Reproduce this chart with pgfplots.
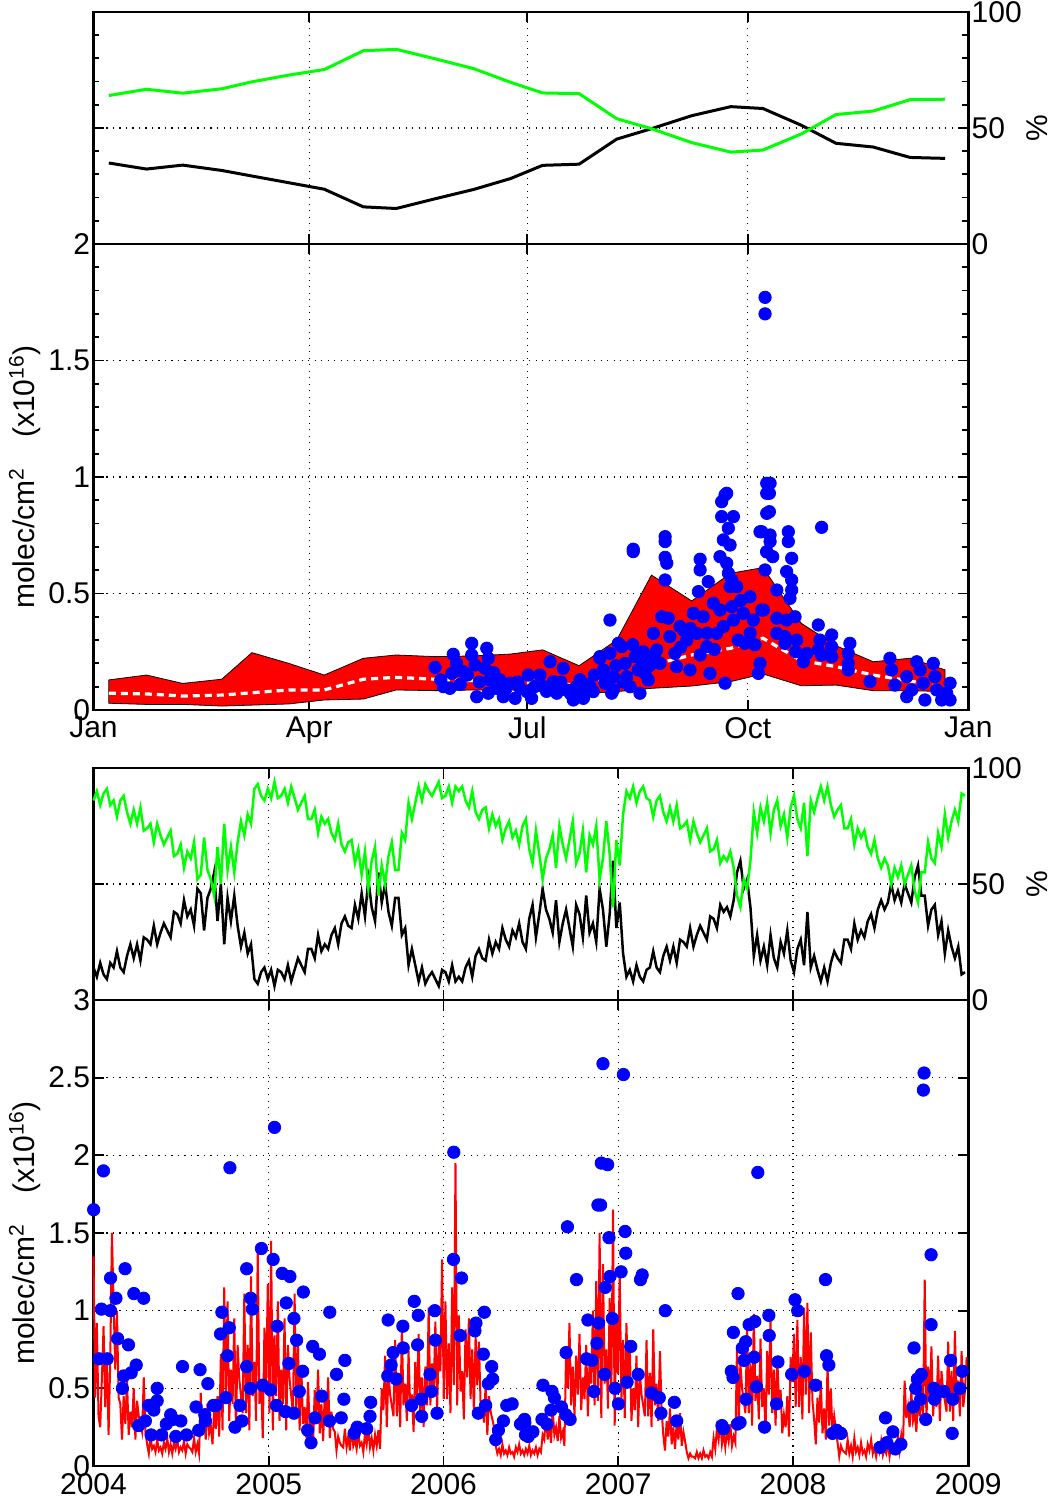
\documentclass[border=0pt]{standalone}
\usepackage{fontspec}
\setmainfont{Liberation Sans}
\usepackage{pgfplots}
\pgfplotsset{compat=1.18}
\usepackage{pgfplotstable}

\definecolor{mgreen}{RGB}{0,255,0}
\definecolor{mred}{RGB}{255,0,0}
\definecolor{mblue}{RGB}{0,0,255}

\pgfplotstableread{
w b g
0 14 86
1 10 90
2 16 84
3 11 89
4 9 91
5 16 84
6 14 86
7 21 79
8 14 86
9 12 88
10 19 81
11 24 76
12 18 82
13 24 76
14 17 83
15 27 73
16 26 74
17 24 76
18 32 68
19 24 76
20 29 71
21 33 67
22 30 70
23 27 73
24 38 62
25 37 63
26 33 67
27 43 57
28 36 64
29 39 61
30 32 68
31 48 52
32 46 54
33 30 70
34 44 56
35 48 52
36 55 45
37 34 66
38 50 50
39 24 76
40 44 56
41 34 66
42 45 55
43 32 68
44 23 77
45 29 71
46 20 80
47 24 76
48 9 91
49 7 93
50 12 88
51 14 86
52 9 91
53 13 87
54 6 94
55 13 87
56 12 88
57 9 91
58 15 85
59 8 92
60 13 87
61 18 82
62 15 85
63 12 88
64 22 78
65 22 78
66 18 82
67 28 72
68 21 79
69 24 76
70 22 78
71 28 72
72 31 69
73 24 76
74 33 67
75 36 64
76 32 68
77 31 69
78 41 59
79 35 65
80 46 54
81 36 64
82 52 48
83 40 60
84 34 66
85 55 45
86 42 58
87 50 50
88 38 62
89 32 68
90 44 56
91 44 56
92 28 72
93 31 69
94 15 85
95 22 78
96 15 85
97 8 92
98 14 86
99 7 93
100 10 90
101 12 88
102 9 91
103 6 94
104 13 87
105 12 88
106 8 92
107 15 85
108 8 92
109 10 90
110 8 92
111 14 86
112 17 83
113 10 90
114 19 81
115 22 78
116 18 82
117 17 83
118 26 74
119 20 80
120 25 75
121 22 78
122 31 69
123 26 74
124 23 77
125 30 70
126 27 73
127 33 67
128 25 75
129 22 78
130 35 65
131 41 59
132 27 73
133 37 63
134 48 52
135 39 61
136 35 65
137 29 71
138 43 57
139 25 75
140 33 67
141 39 61
142 31 69
143 23 77
144 41 59
145 37 63
146 27 73
147 45 55
148 29 71
149 33 67
150 25 75
151 48 52
152 39 61
153 23 77
154 37 63
155 60 40
156 31 69
157 42 58
158 20 80
159 10 90
160 13 87
161 8 92
162 15 85
163 10 90
164 8 92
165 13 87
166 14 86
167 21 79
168 14 86
169 12 88
170 19 81
171 23 77
172 17 83
173 23 77
174 16 84
175 26 74
176 25 75
177 23 77
178 31 69
179 23 77
180 28 72
181 32 68
182 29 71
183 26 74
184 36 64
185 35 65
186 31 69
187 41 59
188 38 62
189 40 60
190 36 64
191 43 57
192 55 45
193 60 40
194 48 52
195 52 48
196 40 60
197 19 81
198 28 72
199 17 83
200 23 77
201 15 85
202 28 72
203 18 82
204 14 86
205 25 75
206 20 80
207 30 70
208 17 83
209 12 88
210 22 78
211 26 74
212 15 85
213 38 62
214 14 86
215 19 81
216 13 87
217 8 92
218 14 86
219 8 92
220 16 84
221 21 79
222 18 82
223 16 84
224 26 74
225 26 74
226 22 78
227 33 67
228 26 74
229 30 70
230 27 73
231 34 66
232 37 63
233 31 69
234 39 61
235 43 57
236 39 61
237 42 58
238 50 50
239 43 57
240 47 53
241 42 58
242 50 50
243 46 54
244 42 58
245 53 47
246 58 42
247 45 55
248 45 55
249 32 68
250 39 61
251 41 59
252 28 72
253 34 66
254 20 80
255 30 70
256 23 77
257 18 82
258 23 77
259 11 89
260 12 88
}\fracdata

\pgfplotstableread{
w r
0 1.35
0.5 0.44
1 0.92
1.5 0.32
2 0.25
2.5 0.56
3 0.9
3.5 0.38
4 0.7
4.5 0.2
5 0.68
5.5 1.5
6 1.04
6.5 0.62
7 1.0
7.5 0.44
8 0.4
8.5 0.17
9 0.45
9.5 0.27
10 0.55
10.5 0.2
11 0.35
11.5 0.25
12 0.5
12.5 0.17
13 0.42
13.5 0.32
14 0.27
14.5 0.22
15 0.57
15.5 0.22
16 0.14
16.5 0.08
17 0.19
17.5 0.11
18 0.13
18.5 0.09
19 0.17
19.5 0.1
20 0.12
20.5 0.08
21 0.15
21.5 0.11
22 0.18
22.5 0.09
23 0.14
23.5 0.08
24 0.15
24.5 0.11
25 0.17
25.5 0.09
26 0.12
26.5 0.1
27 0.16
27.5 0.08
28 0.14
28.5 0.12
29 0.11
29.5 0.09
30 0.18
30.5 0.09
31 0.14
31.5 0.08
32 0.47
32.5 0.23
33 0.3
33.5 0.17
34 0.4
34.5 0.21
35 0.26
35.5 0.14
36 0.37
36.5 0.24
37 0.45
37.5 0.19
38 0.72
38.5 0.23
39 1.15
39.5 0.45
40 1.06
40.5 0.29
41 0.62
41.5 0.4
42 0.95
42.5 0.23
43 0.78
43.5 0.56
44 0.45
44.5 0.34
45 1.11
45.5 0.34
46 0.78
46.5 0.23
47 1.22
47.5 0.45
48 0.67
48.5 0.29
49 1.4
49.5 0.4
50 0.56
50.5 0.18
51 0.89
51.5 0.51
52 1.17
52.5 0.34
53 1.45
53.5 0.23
54 0.84
54.5 0.45
55 1.06
55.5 0.29
56 0.62
56.5 0.4
57 0.95
57.5 0.23
58 0.78
58.5 0.56
59 0.45
59.5 0.34
60 1.11
60.5 0.34
61 0.78
61.5 0.23
62 0.65
62.5 0.27
63 0.38
63.5 0.18
64 0.54
64.5 0.24
65 0.32
65.5 0.13
66 0.49
66.5 0.29
67 0.62
67.5 0.21
68 0.4
68.5 0.16
69 0.46
69.5 0.27
70 0.57
70.5 0.18
71 0.35
71.5 0.24
72 0.22
72.5 0.1
73 0.19
73.5 0.15
74 0.13
74.5 0.12
75 0.24
75.5 0.12
76 0.19
76.5 0.1
77 0.26
77.5 0.13
78 0.17
78.5 0.11
79 0.22
79.5 0.13
80 0.15
80.5 0.09
81 0.21
81.5 0.14
82 0.25
82.5 0.12
83 0.18
83.5 0.1
84 0.2
84.5 0.13
85 0.23
85.5 0.11
86 0.5
86.5 0.36
87 0.71
87.5 0.25
88 0.6
88.5 0.46
89 0.39
89.5 0.32
90 0.81
90.5 0.32
91 0.6
91.5 0.25
92 0.88
92.5 0.39
93 0.53
93.5 0.29
94 0.74
94.5 0.36
95 0.46
95.5 0.22
96 0.67
96.5 0.43
97 0.85
97.5 0.32
98 0.57
98.5 0.25
99 0.64
99.5 0.39
100 1.02
100.5 0.39
101 0.66
101.5 0.48
102 0.93
102.5 0.34
103 0.79
103.5 0.61
104 1.33
104.5 0.43
105 1.06
105.5 0.43
106 0.79
106.5 0.34
107 1.15
107.5 0.52
108 1.95
108.5 0.39
109 0.97
109.5 0.48
110 0.61
110.5 0.3
111 0.88
111.5 0.57
112 0.95
112.5 0.43
113 0.75
113.5 0.34
114 0.84
114.5 0.52
115 0.8
115.5 0.39
116 0.38
116.5 0.28
117 0.53
117.5 0.2
118 0.45
118.5 0.35
119 0.3
119.5 0.25
120 0.13
120.5 0.08
121 0.11
121.5 0.07
122 0.14
122.5 0.08
123 0.1
123.5 0.07
124 0.12
124.5 0.08
125 0.09
125.5 0.06
126 0.12
126.5 0.09
127 0.14
127.5 0.08
128 0.1
128.5 0.07
129 0.11
129.5 0.08
130 0.13
130.5 0.07
131 0.1
131.5 0.08
132 0.12
132.5 0.07
133 0.11
133.5 0.09
134 0.2
134.5 0.17
135 0.35
135.5 0.17
136 0.27
136.5 0.15
137 0.37
137.5 0.2
138 0.25
138.5 0.16
139 0.32
139.5 0.18
140 0.22
140.5 0.13
141 0.74
141.5 0.5
142 0.92
142.5 0.39
143 0.64
143.5 0.32
144 0.71
144.5 0.46
145 0.85
145.5 0.36
146 0.57
146.5 0.43
147 0.78
147.5 0.32
148 0.67
148.5 0.53
149 1.0
149.5 0.39
150 1.19
150.5 0.42
151 1.5
151.5 0.31
152 1.3
152.5 0.53
153 0.75
153.5 0.37
154 1.08
154.5 0.48
155 1.65
155.5 0.26
156 0.97
156.5 0.59
157 1.25
157.5 0.42
158 0.81
158.5 0.31
159 0.92
159.5 0.53
160 0.78
160.5 0.29
161 0.5
161.5 0.36
162 0.71
162.5 0.25
163 0.6
163.5 0.46
164 0.39
164.5 0.32
165 0.81
165.5 0.32
166 0.6
166.5 0.25
167 0.88
167.5 0.39
168 0.53
168.5 0.29
169 0.74
169.5 0.36
170 0.2
170.5 0.1
171 0.29
171.5 0.19
172 0.37
172.5 0.14
173 0.25
173.5 0.11
174 0.28
174.5 0.17
175 0.34
175.5 0.13
176 0.22
176.5 0.16
177 0.09
177.5 0.05
178 0.08
178.5 0.06
179 0.06
179.5 0.05
180 0.09
180.5 0.05
181 0.08
181.5 0.05
182 0.1
182.5 0.06
183 0.07
183.5 0.05
184 0.09
184.5 0.06
185 0.18
185.5 0.11
186 0.24
186.5 0.17
187 0.29
187.5 0.14
188 0.21
188.5 0.12
189 0.23
189.5 0.16
190 0.27
190.5 0.13
191 0.19
191.5 0.15
192 0.78
192.5 0.26
193 0.66
193.5 0.5
194 0.42
194.5 0.34
195 0.9
195.5 0.34
196 0.66
196.5 0.26
197 0.98
197.5 0.42
198 0.58
198.5 0.3
199 0.82
199.5 0.38
200 0.5
200.5 0.22
201 0.74
201.5 0.46
202 0.94
202.5 0.34
203 0.62
203.5 0.26
204 0.7
204.5 0.42
205 0.49
205.5 0.21
206 0.33
206.5 0.25
207 0.45
207.5 0.19
208 0.7
208.5 0.54
209 0.85
209.5 0.38
210 0.94
210.5 0.38
211 0.7
211.5 0.3
212 1.02
212.5 0.46
213 1.05
213.5 0.34
214 0.86
214.5 0.42
215 0.3
215.5 0.14
216 0.44
216.5 0.28
217 0.55
217.5 0.21
218 0.37
218.5 0.17
219 0.65
219.5 0.26
220 0.5
220.5 0.19
221 0.32
221.5 0.23
222 0.15
222.5 0.06
223 0.13
223.5 0.1
224 0.09
224.5 0.08
225 0.17
225.5 0.08
226 0.13
226.5 0.06
227 0.18
227.5 0.09
228 0.12
228.5 0.07
229 0.15
229.5 0.08
230 0.1
230.5 0.06
231 0.14
231.5 0.1
232 0.17
232.5 0.08
233 0.12
233.5 0.06
234 0.13
234.5 0.09
235 0.16
235.5 0.07
236 0.11
236.5 0.08
237 0.15
237.5 0.06
238 0.13
238.5 0.1
239 0.09
239.5 0.08
240 0.2
240.5 0.1
241 0.2
241.5 0.12
242 0.55
242.5 0.31
243 0.38
243.5 0.25
244 0.48
244.5 0.29
245 0.34
245.5 0.22
246 0.45
246.5 0.32
247 0.53
247.5 0.27
248 1.2
248.5 0.29
249 0.64
249.5 0.42
250 0.77
250.5 0.32
251 0.51
251.5 0.38
252 0.71
252.5 0.29
253 0.61
253.5 0.48
254 0.42
254.5 0.35
255 0.8
255.5 0.35
256 0.61
256.5 0.29
257 0.87
257.5 0.42
258 0.55
258.5 0.32
259 0.74
259.5 0.38
260 0.48
260.5 0.7
}\reddata

\pgfplotsset{
  mybase/.style={
    scale only axis, width=437.4pt,
    axis line style={line width=1.2pt},
    tick style={black, line width=0.9pt},
    major tick length=5pt, minor tick length=3pt,
    tick align=inside,
    xmajorgrids, ymajorgrids,
    major grid style={black, line width=0.65pt, dash pattern=on 0.65pt off 2.6pt},
    tick label style={font=\fontsize{15}{18}\selectfont},
    label style={font=\fontsize{15}{18}\selectfont},
    /pgf/number format/assume math mode=true,
    yticklabel style={inner xsep=1.5pt},
    clip=false,
  },
  leftlab/.style={
    ylabel={molec/cm\textsuperscript{2}\hspace{1em}(x10\textsuperscript{16})},
    ylabel style={at={(axis description cs:-0.068,0.5)}, anchor=base},
  },
  rightlab/.style={
    yticklabel pos=right,
    ylabel={\%},
    ylabel style={at={(axis description cs:1.079,0.5)}, anchor=center},
  },
}

\begin{document}
\begin{tikzpicture}
\useasboundingbox (-46.75pt,-17pt) rectangle (479.75pt,733pt);

% Panel 1: seasonal fractions
\begin{axis}[mybase, rightlab, at={(0pt,611pt)}, anchor=south west, height=116pt,
  xmin=0, xmax=365, ymin=0, ymax=100,
  xtick={0,90,181,273,365}, xticklabels={,,,,}, minor x tick num=9,
  ytick={0,50,100}, minor y tick num=4]
\addplot[black, line width=1.5pt] coordinates {
(6.4,34.9)(22.1,32.3)(37.2,34.0)(53.5,31.7)(66.1,29.3)(81.5,26.4)(96.3,23.6)(112.6,16.0)
(126.3,15.3)(142.6,19.5)(158.6,23.5)(174.0,28.2)(187.4,33.9)(202.6,34.4)(218.3,45.2)(232.8,49.7)
(249.6,55.3)(265.9,59.2)(279.3,58.4)(295.3,51.2)(309.8,43.4)(325.3,41.8)(340.7,37.3)(355.3,36.9)};
\addplot[mgreen, line width=1.5pt] coordinates {
(6.4,64.0)(22.1,66.7)(37.2,65.0)(53.5,66.9)(66.1,69.9)(81.5,72.8)(96.3,75.2)(112.6,83.3)
(126.3,83.9)(142.6,79.8)(158.6,75.6)(174.0,69.7)(187.4,65.1)(202.6,64.8)(218.3,54.0)(232.8,49.7)
(249.6,43.7)(265.9,39.6)(279.3,40.5)(295.3,47.4)(309.8,55.8)(325.3,57.3)(340.7,62.2)(355.3,62.4)};
\end{axis}

% Panel 2: seasonal columns
\begin{axis}[mybase, leftlab, at={(0pt,378pt)}, anchor=south west, height=233pt,
  xmin=0, xmax=365, ymin=0, ymax=2,
  xtick={0,90,181,273,365}, xticklabels={Jan,Apr,Jul,Oct,Jan}, minor x tick num=9,
  ytick={0,0.5,1,1.5,2}, minor y tick num=4]
\addplot[fill=mred, draw=black, line width=0.4pt] coordinates {
(6.4,0.129)(22.1,0.150)(37.2,0.114)(53.5,0.132)(66.1,0.246)(81.5,0.200)(96.3,0.150)(112.6,0.222)
(126.3,0.236)(142.6,0.229)(158.6,0.232)(174.0,0.240)(187.4,0.258)(202.6,0.190)(218.3,0.300)(232.8,0.579)
(249.6,0.468)(265.9,0.587)(279.3,0.611)(295.3,0.372)(309.8,0.276)(325.3,0.207)(340.7,0.222)(355.3,0.172)
(355.3,0.079)(340.7,0.083)(325.3,0.083)(309.8,0.107)(295.3,0.104)(279.3,0.155)(265.9,0.122)(249.6,0.103)
(232.8,0.093)(218.3,0.079)(202.6,0.069)(187.4,0.079)(174.0,0.086)(158.6,0.086)(142.6,0.083)(126.3,0.086)
(112.6,0.047)(96.3,0.043)(81.5,0.026)(66.1,0.021)(53.5,0.017)(37.2,0.024)(22.1,0.024)(6.4,0.029)} -- cycle;
\addplot[only marks, mark=*, mark size=3.1pt, mblue, mark options={draw=mblue, fill=mblue}] coordinates {
(142.5,0.183)(144.9,0.129)(150.1,0.239)(151.5,0.200)(149.5,0.157)(148.7,0.093)(154.3,0.164)(157.8,0.286)
(157.8,0.236)(159.2,0.193)(159.9,0.057)(164.1,0.265)(164.7,0.222)(163.3,0.179)(165.4,0.129)(164.7,0.072)
(169.6,0.129)(168.2,0.093)(171.0,0.057)(173.8,0.115)(175.9,0.050)(178.0,0.093)(181.4,0.150)(180.8,0.079)
(182.8,0.050)(186.3,0.150)(187.7,0.100)(190.5,0.207)(191.9,0.122)(193.3,0.072)(196.0,0.179)(197.4,0.086)
(200.2,0.043)(201.6,0.100)(204.4,0.072)(208.5,0.079)(211.3,0.229)(212.0,0.157)(213.4,0.115)(215.5,0.386)
(215.5,0.243)(216.9,0.086)(219.0,0.286)
(146,0.10)(153,0.11)(156,0.15)(161,0.12)(167,0.16)(172,0.09)(177,0.12)(184,0.10)(189,0.08)(195,0.12)
(199,0.07)(203,0.13)(206,0.11)(209,0.15)(218,0.19)(221,0.12)(225,0.28)(229,0.21)(232,0.19)(234,0.23)
(245,0.27)(249,0.35)(256,0.33)(259,0.26)(269,0.30)(270,0.47)(274,0.33)(276,0.28)
(225.2,0.690)(225.2,0.680)(238.5,0.744)(238.5,0.723)(238.5,0.655)(239.2,0.630)(238.5,0.558)(253.1,0.647)
(253.1,0.601)(256.5,0.551)(252.4,0.508)(262.1,0.894)(263.5,0.923)(264.2,0.930)(262.1,0.830)(267.0,0.830)
(264.9,0.780)(262.8,0.730)(265.6,0.708)(261.4,0.658)(264.2,0.630)(264.9,0.587)(266.3,0.558)(265.6,0.529)
(280.9,0.973)(280.9,0.930)(280.9,0.844)(278.1,0.765)(280.9,0.679)
(203,0.086)(204.4,0.050)(207.2,0.100)(211.3,0.222)(212.7,0.172)(214.8,0.115)(216.9,0.143)(216.2,0.072)
(220.4,0.272)(221.8,0.200)(222.5,0.143)(223.9,0.100)(226.0,0.229)(227.3,0.172)(228.0,0.072)(229.4,0.250)
(230.1,0.157)(231.5,0.129)(233.6,0.329)(235.0,0.258)(236.4,0.200)(237.1,0.400)(239.8,0.394)(240.5,0.315)
(242.6,0.243)(243.3,0.186)(244.7,0.358)(246.1,0.343)(247.5,0.300)(248.9,0.172)(250.3,0.415)(251.7,0.329)
(253.1,0.236)(254.4,0.400)(255.9,0.272)(257.2,0.157)(258.6,0.458)(260.0,0.329)(261.4,0.429)(262.8,0.358)
(263.5,0.115)(266.3,0.443)(267.0,0.386)(268.4,0.529)(271.1,0.415)(271.8,0.286)(273.9,0.486)(275.3,0.386)
(278.8,0.429)(278.1,0.200)(277.4,0.157)(280.2,0.601)
(282.3,0.973)(282.0,0.930)(282.0,0.851)(278.8,0.765)(282.3,0.751)(282.3,0.723)(280.9,0.679)(283.4,0.658)
(289.9,0.765)(289.9,0.723)(291.3,0.651)(289.2,0.594)(291.3,0.558)(291.3,0.515)(290.6,0.479)(303.8,0.784)
(285.1,0.515)(279.5,0.429)(285.1,0.394)(289.2,0.386)(292.7,0.400)(285.1,0.329)(288.5,0.315)(288.5,0.286)
(293.4,0.300)(293.0,0.250)(296.2,0.207)(297.6,0.243)(302.4,0.365)(303.1,0.300)(302.4,0.258)(303.8,0.236)
(308.0,0.322)(308.0,0.272)(308.0,0.229)(315.6,0.286)(314.9,0.243)(314.9,0.200)(314.9,0.172)(324.0,0.122)
(332.3,0.222)(333.0,0.172)(334.4,0.107)(339.3,0.143)(339.3,0.057)(341.4,0.086)(343.5,0.207)(344.9,0.172)
(346.2,0.115)(346.9,0.043)(350.4,0.200)(351.1,0.143)(351.8,0.086)(353.9,0.043)(356.0,0.072)(357.4,0.115)
(357.4,0.043)(280.2,1.771)(280.2,1.700)};
\addplot[white, line width=1.6pt, dash pattern=on 3.5pt off 2.5pt] coordinates {
(6.4,0.072)(22.1,0.069)(37.2,0.060)(53.5,0.064)(66.1,0.074)(81.5,0.086)(96.3,0.086)(112.6,0.132)
(126.3,0.140)(142.6,0.132)(158.6,0.126)(174.0,0.122)(187.4,0.117)(202.6,0.107)(218.3,0.143)(232.8,0.193)
(249.6,0.236)(265.9,0.265)(279.3,0.308)(295.3,0.212)(309.8,0.186)(325.3,0.150)(340.7,0.125)(355.3,0.095)};
\end{axis}

% Panel 3: daily fractions 2004-2008
\begin{axis}[mybase, rightlab, at={(0pt,233pt)}, anchor=south west, height=116pt,
  xmin=0, xmax=261, ymin=0, ymax=100,
  xtick={0,52.29,104.43,156.57,208.71,261}, xticklabels={,,,,,},
  ytick={0,50,100}]
\addplot[black, line width=1.25pt] table[x=w, y=b] {\fracdata};
\addplot[mgreen, line width=1.25pt] table[x=w, y=g] {\fracdata};
\end{axis}

% Panel 4: daily columns 2004-2008
\begin{axis}[mybase, leftlab, at={(0pt,0pt)}, anchor=south west, height=233pt,
  xmin=0, xmax=261, ymin=0, ymax=3,
  xtick={0,52.29,104.43,156.57,208.71,261}, xticklabels={2004,2005,2006,2007,2008,2009},
  ytick={0,0.5,1,1.5,2,2.5,3}]
\addplot[mred, line width=1pt] table[x=w, y=r] {\reddata};
\addplot[only marks, mark=*, mark size=3.1pt, mblue, mark options={draw=mblue, fill=mblue}] coordinates {
(0.05,1.65)(2.97,1.90)(1.66,0.69)(4.08,0.69)(2.37,1.01)(5.09,1.00)(5.09,1.21)(6.70,1.08)(7.2,0.82)
(10.43,0.78)(9.42,1.27)(8.62,0.50)(9.02,0.58)(11.24,0.60)(12.75,0.65)(12.04,1.11)(14.97,1.08)(13.46,0.26)
(16.48,0.39)(15.47,0.29)(17.19,0.20)(19.0,0.50)(19.0,0.42)(18.0,0.36)(20.31,0.20)(21.72,0.27)(23.03,0.33)
(23.74,0.30)(24.55,0.19)(26.06,0.29)(26.56,0.64)(27.77,0.20)(30.6,0.38)(31.4,0.23)(31.8,0.62)(33.2,0.33)
(33.4,0.29)(34.12,0.53)(35.8,0.39)(36.6,0.39)(37.9,0.85)(38.3,0.99)(39.5,0.44)(40.0,0.71)(40.5,0.89)
(40.7,1.92)(42.2,0.25)(43.7,0.39)(44.3,0.29)(45.7,1.27)(45.7,0.64)(46.9,1.08)(47.4,1.01)(46.8,0.50)
(50.1,1.40)(50.5,0.52)(52.8,0.49)(53.6,1.33)(54.0,2.18)(54.6,0.39)(54.8,0.90)(56.3,1.24)(57.3,0.35)
(57.5,1.05)(58.6,1.22)(58.3,0.66)(59.8,0.34)(59.8,0.95)(60.6,0.81)(61.4,0.48)(62.4,0.61)(62.6,1.12)
(63.9,0.23)(64.9,0.15)(65.4,0.77)(66.1,0.31)(67.4,0.72)(68.1,0.45)(70.5,0.99)(70.4,0.29)(72.5,0.59)
(73.9,0.31)(74.7,0.43)(75.0,0.68)(77.8,0.21)(78.7,0.25)(81.5,0.24)(82.5,0.32)(82.7,0.41)(87.9,0.94)
(87.8,0.58)(88.8,0.65)(89.4,0.73)(90.3,0.56)(92.3,0.90)(92.4,0.76)(94.9,0.39)(95.7,1.06)(96.7,0.78)
(96.9,0.97)(97.8,0.43)(97.9,0.32)(100.4,0.59)(100.8,0.48)(101.8,1.00)(102.0,0.81)(102.5,0.34)(107.5,2.02)
(107.4,1.33)(109.8,1.21)(109.4,0.84)(113.8,0.87)(114.1,0.92)(116.6,0.99)(116.3,0.72)(118.8,0.64)(119.1,0.56)
(117.8,0.53)(114.8,0.34)(117.0,0.39)(120.0,0.17)(120.8,0.23)(122.3,0.29)(123.3,0.39)(124.9,0.40)(127.4,0.27)
(128.9,0.20)(128.6,0.30)
(128.7,0.28)(129.7,0.19)(131.1,0.22)(133.8,0.30)(135.3,0.27)(134.1,0.52)(136.8,0.48)(137.5,0.44)(136.5,0.36)
(139.6,0.38)(140.9,0.33)(142.2,0.30)(141.0,0.73)(141.4,1.54)(144.1,1.20)(147.5,0.94)(147.1,0.69)(148.7,0.68)
(149.3,0.48)(150.2,0.79)(150.7,0.92)(150.5,1.68)(151.3,1.68)(152.0,2.59)(151.5,1.95)(153.4,1.94)(152.5,0.59)
(152.7,1.15)(153.8,1.47)(154.1,1.22)(154.8,0.95)(155.6,0.50)(156.6,0.40)(157.4,1.25)(158.6,1.51)(158.1,2.52)
(158.8,1.37)(159.2,0.54)(160.3,0.77)(162.5,0.59)(163.2,1.20)(163.7,1.23)(166.5,0.47)(168.8,0.44)(169.3,0.34)
(170.6,1.00)(173.3,0.41)(174.0,0.29)(187.5,0.26)(188.0,0.24)(190.3,0.61)(190.8,0.57)(190.9,0.86)(192.3,1.11)
(192.9,0.28)(192.1,0.27)(193.6,0.76)(194.6,0.80)(194.1,0.68)(194.7,0.43)(195.6,0.91)(197.3,0.93)(197.1,0.70)
(197.8,0.51)(200.2,0.25)(198.2,1.89)(201.5,0.97)(201.6,0.84)(204.2,0.67)(203.8,0.40)(208.3,0.59)(209.3,1.07)
(210.1,1.00)(212.1,0.61)(215.4,0.52)(218.4,1.20)(218.7,0.71)(219.4,0.65)(220.5,0.21)(221.7,0.23)(223.0,0.21)
(234.7,0.12)(236.3,0.31)(236.7,0.15)(238.5,0.22)(239.2,0.11)(240.9,0.14)(244.6,0.38)(244.8,0.76)(245.3,0.50)
(245.8,0.56)(247.0,0.59)(246.8,0.43)(247.8,2.53)(247.6,2.42)(248.3,0.30)(249.9,1.36)(249.9,0.91)(250.7,0.50)
(250.9,0.43)(253.7,0.48)(255.7,0.68)(256.4,0.43)(256.2,0.21)(258.5,0.50)(259.2,0.61)};
\end{axis}
\end{tikzpicture}
\end{document}
